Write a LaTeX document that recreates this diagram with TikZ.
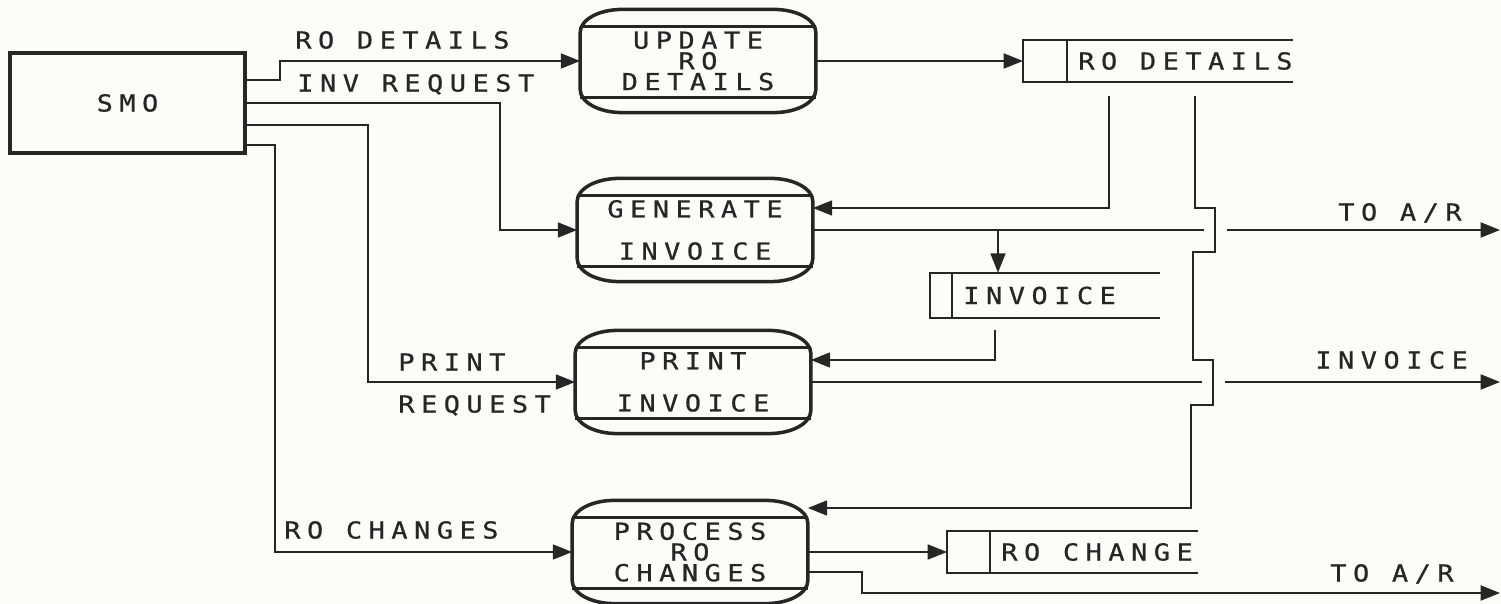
\documentclass[tikz,border=0pt]{standalone}
\usepackage{fontspec}
\newfontfamily\plotfont[FakeStretch=1.15,LetterSpace=28,FakeBold=0.8]{DejaVu Sans Mono}
\usetikzlibrary{arrows.meta}

\begin{document}
\begin{tikzpicture}[x=0.02cm, y=-0.02cm,
    ink/.style={draw=inkColour, line width=1.15pt},
    flow/.style={ink, -{Triangle[length=11pt,width=8.5pt]}},
    txt/.style={font=\plotfont\fontsize{13.3}{11.8}\selectfont, text=inkColour},
    lbl/.style={txt, anchor=west, inner sep=0pt, text height=9.7pt, text depth=0pt},
    entity/.style={txt, draw=inkColour, line width=2.2pt, minimum width=4.7cm, minimum height=2cm},
    process/.style={txt, minimum width=4.7cm, minimum height=2.05cm, align=center},
    lid/.style={draw=inkColour, line width=2pt},
    store/.style={txt, anchor=west, inner xsep=0.22cm, inner ysep=0pt, minimum height=0.84cm},
    storeline/.style={ink, line width=1.3pt}]

    % Define colours
    \definecolor{inkColour}{HTML}{262626}
    \definecolor{paperColour}{HTML}{FDFCF6}

    % Paper
    \useasboundingbox (0,0) rectangle (1501,604);
    \fill[paperColour] (0,0) rectangle (1501,604);

    % External entity
    \node[entity] (smo) at (127.5,103) {SMO};

    % Processes
    \node[process] (upd) at (698,61) {UPDATE\\RO\\DETAILS};
    \node[process] (gen) at (695,230) {GENERATE\\[12.2pt]INVOICE};
    \node[process] (prt) at (693,382) {PRINT\\[12.2pt]INVOICE};
    \node[process] (prc) at (690,552) {PROCESS\\RO\\CHANGES};
    \foreach \p in {upd,gen,prt,prc} {
        \draw[lid] ([xshift=0.84cm]\p.north west) -- ([xshift=-0.84cm]\p.north east)
            arc[start angle=90, end angle=0, x radius=0.84cm, y radius=0.46cm]
            -- ([yshift=0.46cm]\p.south east)
            arc[start angle=0, end angle=-90, x radius=0.84cm, y radius=0.46cm]
            -- ([xshift=0.84cm]\p.south west)
            arc[start angle=270, end angle=180, x radius=0.84cm, y radius=0.46cm]
            -- ([yshift=-0.46cm]\p.north west)
            arc[start angle=180, end angle=90, x radius=0.84cm, y radius=0.46cm] -- cycle;
        \draw[lid, line width=1.6pt] ([yshift=-0.34cm]\p.north west) -- ([yshift=-0.34cm]\p.north east);
        \draw[lid, line width=1.6pt] ([yshift=0.3cm]\p.south west) -- ([yshift=0.3cm]\p.south east);
    }

    % Data stores
    \node[store] (rod) at (1067,61) {RO DETAILS};
    \node[store, minimum height=0.9cm] (inv) at (952,295.5) {INVOICE};
    \node[store] (rch) at (990,552) {RO CHANGE};
    \foreach \s/\w/\l in {rod/4.52cm/0.88cm, inv/4.16cm/0.44cm, rch/4.16cm/0.86cm} {
        \draw[storeline] ([xshift=\w]\s.north west) -- ([xshift=-\l]\s.north west)
            -- ([xshift=-\l]\s.south west) -- ([xshift=\w]\s.south west);
        \draw[storeline] (\s.north west) -- (\s.south west);
    }

    % Flows out of SMO
    \draw[flow] (smo.east |- 0,80) -- (280,80) |- (upd.west);
    \draw[flow] (smo.east |- 0,103) -- (500,103) |- (gen.west);
    \draw[flow] (smo.east |- 0,125) -- (368,125) |- (prt.west);
    \draw[flow] (smo.east |- 0,145) -- (275,145) |- (prc.west);
    \node[lbl] (lrod) at (295,40) {RO DETAILS};
    \node[lbl] (lreq) at (297,83) {INV REQUEST};
    \node[lbl] (lprt) at (398,362) {PRINT};
    \node[lbl] (lprq) at (398,404) {REQUEST};
    \node[lbl] (lchg) at (284,530) {RO CHANGES};

    % Flows between processes and stores
    \draw[flow] (upd.east) -- ([xshift=-0.88cm]rod.west);
    \draw[flow] (rod.south -| 1109,0) ++(0,14) |- (gen.east |- 0,208);
    \draw[flow] (rod.south -| 1195,0) ++(0,14) -- (1195,208) -- (1215,208) -- (1215,252) -- (1193,252)
        -- (1193,360) -- (1213,360) -- (1213,405) -- (1191,405) |- (prc.east |- 0,508);
    \draw[flow] (gen.east) -| ([xshift=0.92cm]inv.north west);
    \draw[flow] (inv.south -| 995,0) ++(0,12) |- (prt.east |- 0,360);
    \draw[flow] (prc.east) -- ([xshift=-0.86cm]rch.west);

    % Flows to the outside
    \coordinate (toar) at (1500,230);
    \coordinate (invout) at (1500,382);
    \coordinate (toarb) at (1500,593);
    \draw[ink] (gen.east) -- (gen.east -| 1204,0);
    \draw[flow] (gen.east -| 1227,0) -- (toar);
    \draw[ink] (prt.east) -- (prt.east -| 1202,0);
    \draw[flow] (prt.east -| 1225,0) -- (invout);
    \draw[flow] (prc.east |- 0,572) -- (862,572) |- (toarb);
    \node[lbl] (ltoar) at (1338,212) {TO A/R};
    \node[lbl] (linv) at (1315,360) {INVOICE};
    \node[lbl] (ltoarb) at (1330,573) {TO A/R};

\end{tikzpicture}
\end{document}
